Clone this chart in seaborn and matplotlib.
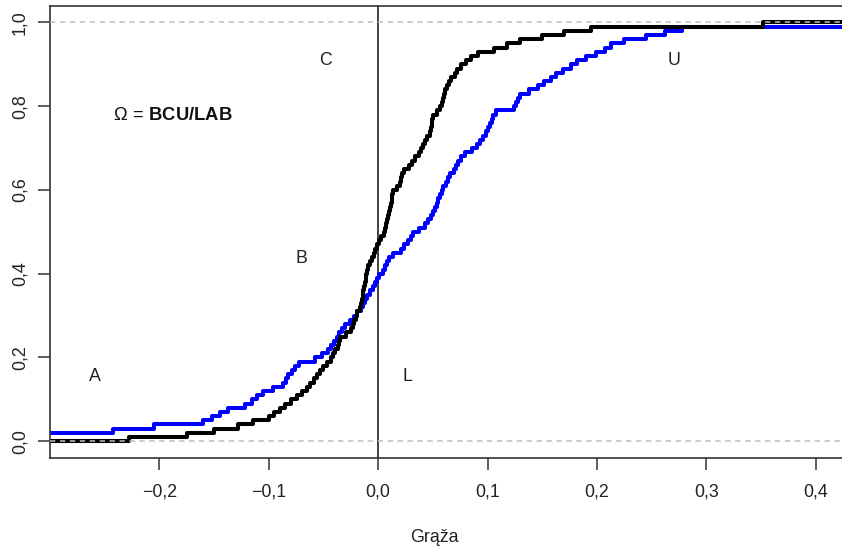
import numpy as np
import pandas as pd
import matplotlib
matplotlib.use("Agg")
import matplotlib.pyplot as plt
import seaborn as sns

# ---- data ----
black_values = [
    -0.228, -0.175, -0.150, -0.128, -0.114, -0.100, -0.095, -0.090, -0.085, -0.080,
    -0.074, -0.070, -0.065, -0.062, -0.059, -0.056, -0.053, -0.050, -0.047, -0.043,
    -0.041, -0.039, -0.037, -0.036, -0.035, -0.029, -0.025, -0.023, -0.022, -0.020,
    -0.019, -0.017, -0.016, -0.015, -0.014, -0.014, -0.013, -0.012, -0.011, -0.011,
    -0.010, -0.009, -0.007, -0.006, -0.004, -0.003, -0.001, 0.001, 0.003, 0.005,
    0.006, 0.007, 0.008, 0.009, 0.010, 0.011, 0.012, 0.013, 0.013, 0.014,
    0.017, 0.020, 0.021, 0.022, 0.024, 0.028, 0.031, 0.034, 0.037, 0.039,
    0.041, 0.043, 0.045, 0.047, 0.048, 0.049, 0.049, 0.050, 0.054, 0.057,
    0.058, 0.059, 0.060, 0.061, 0.063, 0.065, 0.067, 0.070, 0.072, 0.076,
    0.080, 0.085, 0.091, 0.106, 0.118, 0.130, 0.150, 0.170, 0.195, 0.352,
]
blue_values = [
    -0.330, -0.310, -0.242, -0.205, -0.160, -0.152, -0.145, -0.137, -0.122, -0.115,
    -0.111, -0.105, -0.096, -0.087, -0.084, -0.082, -0.079, -0.076, -0.072, -0.058,
    -0.051, -0.046, -0.043, -0.040, -0.038, -0.036, -0.033, -0.030, -0.026, -0.022,
    -0.019, -0.016, -0.014, -0.012, -0.010, -0.007, -0.005, -0.003, -0.001, 0.001,
    0.004, 0.006, 0.008, 0.010, 0.014, 0.021, 0.024, 0.027, 0.030, 0.032,
    0.037, 0.043, 0.046, 0.048, 0.050, 0.052, 0.054, 0.055, 0.057, 0.058,
    0.059, 0.062, 0.064, 0.066, 0.069, 0.071, 0.073, 0.076, 0.079, 0.086,
    0.090, 0.093, 0.096, 0.099, 0.100, 0.102, 0.104, 0.105, 0.108, 0.124,
    0.126, 0.128, 0.130, 0.138, 0.146, 0.152, 0.158, 0.163, 0.169, 0.176,
    0.182, 0.190, 0.199, 0.207, 0.213, 0.225, 0.245, 0.262, 0.278, 0.460,
]
x_ticks = [-0.2, -0.1, 0.0, 0.1, 0.2, 0.3, 0.4]
x_tick_labels = ["\u22120,2", "\u22120,1", "0,0", "0,1", "0,2", "0,3", "0,4"]
y_ticks = [0.0, 0.2, 0.4, 0.6, 0.8, 1.0]
y_tick_labels = ["0,0", "0,2", "0,4", "0,6", "0,8", "1,0"]
region_labels = ["A", "B", "C", "L", "U"]
region_x = [-0.259, -0.070, -0.048, 0.027, 0.271]
region_y = [0.154, 0.437, 0.909, 0.154, 0.909]
x_label = "Grąža"
omega_text = r"$\Omega\,=\,\mathbf{BCU/LAB}$"

# ---- style ----
sns.set_theme(style="white")
plt.rcParams["font.family"] = ["Liberation Sans", "DejaVu Sans"]
plt.rcParams["mathtext.fontset"] = "custom"
plt.rcParams["mathtext.rm"] = "Liberation Sans"
plt.rcParams["mathtext.bf"] = "Liberation Sans:bold"
plt.rcParams["mathtext.it"] = "Liberation Sans:italic"

W, H = 842, 549
fig = plt.figure(figsize=(W / 100, H / 100), dpi=100)
ax = fig.add_axes([50 / W, 1 - 458 / H, 1 - 50 / W, (458 - 5.7) / H])

df = pd.DataFrame({
    "value": black_values + blue_values,
    "series": ["black"] * len(black_values) + ["blue"] * len(blue_values),
})
sns.ecdfplot(data=df, x="value", hue="series", palette={"black": "#000000", "blue": "#0000FF"},
             hue_order=["black", "blue"], linewidth=2.9, legend=False, ax=ax)

xlim = (-0.3, 0.4241)
ylim = (-0.04, 1.04)
# extend the ECDF steps to both sides as R's plot.ecdf does
for line in ax.lines:
    xd = np.asarray(line.get_xdata(), dtype=float)
    yd = np.asarray(line.get_ydata(), dtype=float)
    xd = np.where(np.isfinite(xd), xd, xlim[0] - 1)
    xd = np.r_[xd, xlim[1] + 1]
    yd = np.r_[yd, yd[-1]]
    line.set_data(xd, yd)
    line.set_solid_capstyle("butt")

ax.axvline(0, color="#222222", lw=1.2, zorder=1)
for yv in (0.0, 1.0):
    ax.axhline(yv, color="#BEBEBE", lw=1.1, ls=(0, (3.5, 3)), zorder=5)

ax.set_xlim(*xlim)
ax.set_ylim(*ylim)
ax.set_xticks(x_ticks)
ax.set_xticklabels(x_tick_labels)
ax.set_yticks(y_ticks)
ax.set_yticklabels(y_tick_labels, rotation=90, va="center")
ax.tick_params(axis="both", length=8.5, width=1.1, color="#333333", labelsize=12.8,
               labelcolor="#222222", direction="out")
ax.tick_params(axis="x", pad=10)
ax.tick_params(axis="y", pad=7)
ax.xaxis.set_ticks_position("bottom")
ax.yaxis.set_ticks_position("left")
for side in ("left", "bottom", "top"):
    ax.spines[side].set_color("#333333")
    ax.spines[side].set_linewidth(1.2)
ax.spines["right"].set_visible(False)

ax.set_xlabel(x_label, fontsize=12.8, color="#222222")
ax.set_ylabel("")
ax.xaxis.label.set_va("center")
ax.xaxis.set_label_coords((434 - 50) / (W - 50), (458 - 537) / (458 - 5.7))

for lab, xv, yv in zip(region_labels, region_x, region_y):
    ax.text(xv, yv, lab, ha="center", va="center", fontsize=12.8, color="#222222")
ax.text(-0.188, 0.778, omega_text, ha="center", va="center", fontsize=13.2, color="#111111")

fig.savefig("out.png", dpi=100)
